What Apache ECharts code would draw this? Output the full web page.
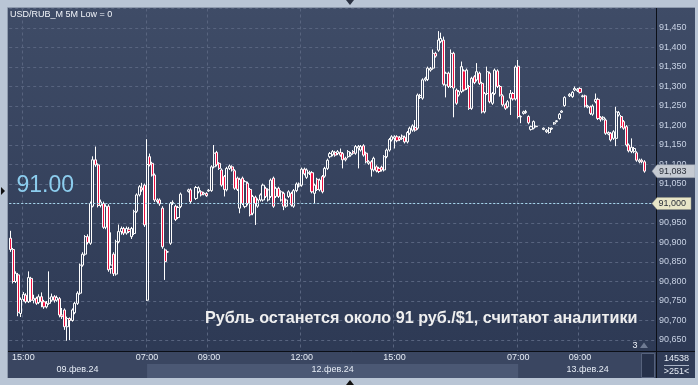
<!DOCTYPE html>
<html><head><meta charset="utf-8">
<script src="https://cdn.jsdelivr.net/npm/echarts@6/dist/echarts.min.js"></script>
<style>html,body{margin:0;padding:0;background:#b9c5d5;overflow:hidden}#c{width:698px;height:385px}</style>
</head><body><div id="c"></div>
<script>
// ---- data ----
const sessions = [
  {date: '09.фев.24', start: '14:35', bars: 53},
  {date: '12.фев.24', start: '07:00', bars: 144},
  {date: '13.фев.24', start: '07:00', bars: 54}
];
const tickTimes = ['15:00', '07:00', '09:00', '12:00'];
const yTicksStep = 50;
const lastClose = 91083;
const refLevel = 91000;

const openP = [
90911,90882,90800,90817,90718,90754,90765,90748,90808,90752,
90757,90746,90761,90748,90735,90744,90752,90761,90752,90756,
90714,90727,90684,90705,90700,90720,90744,90770,90842,90870,
90915,90898,90993,91112,91099,90995,91000,90939,90993,90833,
90870,90819,90902,90928,90936,90924,90934,90915,90923,90980,
91022,91040,91047,
90752,91120,91103,91073,91009,91009,90988,
90881,90876,90898,91000,90993,90964,90992,null,null,91031,
91035,null,91013,91030,91030,91024,91026,91032,91033,91094,
91131,91103,91086,91069,91035,91090,91094,91084,91065,90988,
91065,90992,91052,91036,90975,91016,90993,91009,91009,91039,
91009,91018,91065,91018,91039,91009,91026,90993,91018,91026,
90993,91033,91045,91047,91088,91067,91077,91079,91026,91062,
91035,91069,91070,91090,91120,91125,91131,91128,91131,91128,
91116,91120,91124,91133,91129,91142,91137,91148,91129,91103,
91107,91086,91094,91090,91093,91086,91120,91137,91163,91167,
91171,91169,91167,91170,91158,91180,91188,91195,91193,91272,
91270,91317,91318,91342,91347,91385,91393,91415,91419,91304,
91334,91300,91385,91291,91278,91287,91340,91295,91300,91244,
91325,91317,91334,91308,91235,91282,91334,91257,91282,91340,
91300,91276,91253,91248,91270,91282,91268,
91352,91222,91231,
91233,91223,91190,91193,91197,null,null,91190,91184,91182,
91191,91204,91210,91218,91234,91251,null,91276,91274,91291,
91289,91295,91274,91276,91247,91248,91229,91261,91267,91221,
91216,91214,91178,91180,91167,91167,91227,91223,91210,91197,
91150,91133,91133,91130,91107,91111,91107
];
const closeP = [
90882,90800,90821,90721,90754,90767,90748,90810,90752,90757,
90744,90761,90748,90735,90744,90757,90761,90752,90759,90714,
90710,90684,90705,90700,90727,90744,90770,90842,90870,90915,
90900,91000,91112,91099,90995,91004,90939,90993,90830,90842,
90820,90902,90928,90936,90924,90936,90928,90936,90979,91022,
91043,91035,90945,
91100,91099,91073,91009,91005,90999,90889,
90851,90876,91000,91003,90959,90990,91024,null,null,91035,
91005,null,91041,91040,91022,91027,91020,91034,91094,91129,
91099,91090,91047,91036,91090,91096,91086,91039,91036,91062,
91000,91056,91000,90971,91018,91000,91009,91022,91047,91018,
91035,91060,90993,91039,91018,91030,90993,91009,91030,90996,
91033,91050,91050,91088,91076,91086,91080,91030,91047,91036,
91060,91030,91090,91111,91128,91133,91124,91133,91124,91112,
91112,91133,91128,91129,91146,91146,91146,91124,91107,91107,
91088,91116,91084,91082,91086,91120,91137,91164,91171,91171,
91161,91164,91173,91158,91182,91193,91199,91188,91278,91277,
91317,91321,91347,91346,91385,91378,91419,91423,91306,91334,
91300,91385,91296,91257,91287,91351,91291,91342,91244,91321,
91310,91338,91308,91235,91282,91338,91261,91282,91342,91300,
91278,91253,91244,91261,91282,91268,91350,
91223,91223,91235,
91236,91207,91197,91210,91198,null,null,91193,91188,91193,
91193,91207,91212,91229,91237,91272,null,91280,91285,91295,
91293,91285,91276,91250,91250,91231,91250,91267,91218,91216,
91221,91180,91182,91163,91184,91235,91233,91197,91193,91150,
91135,91144,91141,91111,91111,91107,91083
];
const lowP = [
90876,90795,90796,90711,90709,90749,90744,90745,90747,90744,
90740,90742,90734,90730,90731,90740,90748,90746,90748,90708,
90704,90676,90648,90650,90697,90716,90740,90766,90838,90866,
90895,90894,90990,91094,90990,90990,90935,90934,90825,90820,
90814,90815,90898,90920,90919,90920,90924,90909,90919,90976,
91018,91030,90940,
90750,91095,91069,91004,91000,90994,90884,
90804,90874,90894,90996,90955,90960,90988,null,null,91028,
91001,null,91009,91026,91018,91021,91017,91030,91030,91090,
91095,91086,91043,91018,91031,91086,91082,91035,91032,90975,
90996,90988,90995,90967,90970,90945,90989,91005,91005,91014,
91005,91014,90989,91014,91014,91005,90983,90989,91014,90992,
90989,91029,91041,91043,91072,91063,91073,91026,91000,91032,
91031,91026,91066,91086,91116,91121,91120,91124,91120,91090,
91108,91116,91120,91125,91125,91090,91133,91120,91103,91099,
91069,91082,91080,91078,91082,91082,91116,91133,91159,91141,
91157,91160,91163,91154,91154,91176,91184,91184,91189,91268,
91266,91313,91314,91338,91343,91374,91389,91411,91302,91272,
91296,91296,91221,91253,91274,91283,91287,91291,91240,91240,
91306,91313,91304,91231,91231,91278,91257,91253,91278,91296,
91274,91249,91240,91244,91227,91264,91264,
91218,91206,91228,
91230,91203,91187,91190,91195,null,null,91188,91181,91179,
91189,91202,91208,91215,91232,91248,null,91273,91271,91288,
91286,91282,91272,91246,91244,91227,91225,91257,91214,91210,
91213,91176,91175,91159,91163,91147,91223,91193,91189,91146,
91131,91129,91129,91107,91103,91103,91079
];
const highP = [
90930,90886,90826,90822,90759,90773,90770,90826,90812,90766,
90761,90767,90772,90753,90750,90826,90769,90765,90764,90760,
90732,90731,90710,90708,90731,90748,90775,90846,90875,90919,
90921,91005,91121,91146,91103,91010,91005,90998,90998,90926,
90875,90907,90946,90941,90940,90941,90940,90940,90984,91026,
91047,91053,91051,
91165,91128,91107,91077,91013,91013,90993,
90885,90878,91004,91008,90997,90994,91028,null,null,91038,
91039,null,91045,91044,91034,91030,91029,91037,91098,91150,
91135,91106,91090,91073,91094,91100,91098,91088,91069,91066,
91069,91060,91056,91040,91022,91020,91013,91026,91051,91043,
91039,91064,91069,91043,91043,91034,91030,91013,91034,91030,
91037,91054,91054,91092,91092,91090,91084,91083,91051,91066,
91064,91073,91094,91115,91132,91137,91135,91137,91141,91132,
91120,91137,91132,91137,91150,91150,91150,91152,91133,91111,
91111,91120,91098,91094,91097,91124,91141,91168,91175,91175,
91175,91173,91177,91174,91186,91197,91203,91214,91282,91281,
91321,91325,91351,91350,91395,91389,91442,91438,91428,91338,
91338,91395,91389,91295,91291,91364,91344,91346,91304,91325,
91329,91360,91338,91312,91286,91351,91338,91286,91346,91344,
91304,91280,91257,91265,91291,91286,91354,
91368,91226,91238,
91240,91226,91200,91213,91200,null,null,91195,91191,91196,
91195,91209,91214,91232,91239,91275,null,91283,91288,91300,
91296,91298,91279,91279,91253,91251,91254,91282,91271,91224,
91224,91218,91185,91183,91188,91248,91237,91227,91214,91201,
91154,91167,91145,91134,91115,91115,91111
];

// ---- build categories ----
const cats = [];
const dateCenters = [];
const dayStarts = [];
sessions.forEach(s => {
  const [hh, mm] = s.start.split(':').map(Number);
  dayStarts.push(cats.length);
  dateCenters.push(cats.length + Math.floor(s.bars / 2));
  for (let k = 0; k < s.bars; k++) {
    const t = hh * 60 + mm + 5 * k;
    const ts = String(Math.floor(t / 60)).padStart(2, '0') + ':' + String(t % 60).padStart(2, '0');
    cats.push(s.date + ' ' + ts);
  }
});
const timeOf = v => v.split(' ')[1];
const dateOf = v => v.split(' ')[0];
const isTick = (i, v) => tickTimes.indexOf(timeOf(v)) >= 0;

const candles = openP.map((o, i) => o == null ? ['-', '-', '-', '-'] : [o, closeP[i], lowP[i], highP[i]]);

const FONT = 'Liberation Sans, Arial, sans-serif';
const fmtPrice = v => (v / 1000).toFixed(3).replace('.', ',');

const chart = echarts.init(document.getElementById('c'), null, {width: 698, height: 385});
const option = {
  animation: false,
  textStyle: {fontFamily: FONT},
  backgroundColor: {type: 'linear', x: 0, y: 0, x2: 0, y2: 1,
    colorStops: [{offset: 0, color: '#3f4c67'}, {offset: 1, color: '#2c3853'}]},
  grid: {left: 9.2, right: 42, top: 8.5, height: 351, outerBoundsMode: 'none', containLabel: false},
  xAxis: [
    {type: 'category', data: cats, boundaryGap: true, position: 'bottom', offset: 0,
      axisLine: {show: false}, axisTick: {show: false}, axisLabel: {show: false},
      splitLine: {show: true, interval: isTick, lineStyle: {color: '#58647f', type: [3, 3], width: 1}}},
    {type: 'category', data: cats, boundaryGap: true, z: 60, position: 'bottom', offset: 0,
      axisLine: {show: false}, axisTick: {show: false}, splitLine: {show: false},
      axisLabel: {show: true, interval: isTick, formatter: v => timeOf(v), color: '#e6ecf5',
        fontSize: 9, margin: -6, fontFamily: FONT}},
    {type: 'category', data: cats, boundaryGap: true, z: 60, position: 'bottom', offset: 0,
      axisLine: {show: false}, axisTick: {show: false}, splitLine: {show: false},
      axisLabel: {show: true, interval: (i) => dateCenters.indexOf(i) >= 0, formatter: v => dateOf(v),
        color: '#e6ecf5', fontSize: 9, margin: 5.5, fontFamily: FONT}}
  ],
  yAxis: {type: 'value', position: 'right', min: 90600, max: 91500, interval: yTicksStep, scale: false,
    axisLine: {show: false}, axisTick: {show: false},
    splitLine: {show: true, lineStyle: {color: '#58647f', type: [3, 3], width: 1}},
    axisLabel: {margin: 3, color: '#c8d2e4', fontSize: 9, fontFamily: FONT, formatter: fmtPrice,
      showMinLabel: false, showMaxLabel: false}},
  series: [{
    type: 'candlestick', data: candles, barWidth: 2.6, xAxisIndex: 0, yAxisIndex: 0,
    itemStyle: {color: 'rgba(0,0,0,0)', color0: '#ee1040', borderColor: '#ffffff',
      borderColor0: '#ffffff', borderColorDoji: '#ffffff', borderWidth: 1},
    markLine: {silent: true, symbol: ['none', 'none'], label: {show: false},
      lineStyle: {color: '#a6d8ee', type: [2, 2], width: 1},
      data: [{yAxis: refLevel}]}
  }]
};
chart.setOption(option);

const xAt = i => chart.convertToPixel({xAxisIndex: 0}, i);
const yAt = v => chart.convertToPixel({yAxisIndex: 0}, v);
const FR = '#b9c5d5';
const yL = yAt(lastClose), yR = yAt(refLevel);
const els = [
  // bottom axis band
  {type: 'rect', shape: {x: 8, y: 351, width: 687, height: 27}, style: {fill: '#3a4661'}, z: 50},
  {type: 'rect', shape: {x: xAt(dayStarts[1]), y: 364, width: xAt(dayStarts[2]) - xAt(dayStarts[1]), height: 14},
    style: {fill: '#4b5874'}, z: 51},
  {type: 'rect', shape: {x: 656, y: 351, width: 39, height: 27}, style: {fill: '#303c57'}, z: 51},
  {type: 'rect', shape: {x: 641.5, y: 353.5, width: 13, height: 24}, style: {fill: '#26314a', stroke: '#56627c', lineWidth: 1}, z: 52},
  {type: 'line', shape: {x1: 8, y1: 351.5, x2: 695, y2: 351.5}, style: {stroke: '#0b0f17', lineWidth: 1}, z: 53},
  {type: 'line', shape: {x1: 656.5, y1: 8, x2: 656.5, y2: 378}, style: {stroke: '#0b0f17', lineWidth: 1}, z: 53},
  {type: 'line', shape: {x1: 664, y1: 365.5, x2: 689, y2: 365.5}, style: {stroke: '#aab4c6', lineWidth: 1}, z: 54},
  {type: 'text', x: 676.5, y: 358.5, style: {text: '14538', fill: '#e6ecf5', font: '9px ' + FONT, align: 'center', verticalAlign: 'middle'}, z: 57},
  {type: 'text', x: 676.5, y: 372, style: {text: '>251<', fill: '#e6ecf5', font: '9px ' + FONT, align: 'center', verticalAlign: 'middle'}, z: 57},
  // offset marker
  {type: 'text', x: 635, y: 345.5, style: {text: '3', fill: '#eef2f8', font: '9px ' + FONT, align: 'center', verticalAlign: 'middle'}, z: 57},
  {type: 'polygon', shape: {points: [[640, 348], [644, 342.5], [648, 348]]}, style: {fill: '#6f7b93'}, z: 57},
  // price boxes
  {type: 'polygon', shape: {points: [[652, yL], [657, yL - 6.5], [695, yL - 6.5], [695, yL + 6.5], [657, yL + 6.5]]},
    style: {fill: '#c5cad2', stroke: '#8a93a3', lineWidth: 0.5}, z: 55},
  {type: 'text', x: 659, y: yL + 0.5, style: {text: fmtPrice(lastClose), fill: '#2a2f3a', font: '9px ' + FONT, verticalAlign: 'middle'}, z: 57},
  {type: 'polygon', shape: {points: [[652, yR], [657, yR - 6], [691, yR - 6], [691, yR + 6], [657, yR + 6]]},
    style: {fill: '#e8e6c8', stroke: '#9a9a88', lineWidth: 0.5}, z: 55},
  {type: 'text', x: 658.5, y: yR + 0.5, style: {text: fmtPrice(refLevel), fill: '#2a2f3a', font: '9px ' + FONT, verticalAlign: 'middle'}, z: 57},
  // texts
  {type: 'text', x: 10, y: 15, style: {text: 'USD/RUB_M 5M Low = 0', fill: '#f2f5fa', font: '9px ' + FONT, verticalAlign: 'middle'}, z: 57},
  {type: 'text', x: 16.5, y: 185.5, style: {text: (refLevel / 1000).toFixed(2), fill: '#8ccdee', font: '23px ' + FONT, verticalAlign: 'middle'}, z: 57},
  {type: 'text', x: 205, y: 318.5, style: {text: 'Рубль останется около 91 руб./$1, считают аналитики', fill: '#efefef', font: 'bold 16.2px ' + FONT, verticalAlign: 'middle'}, z: 57},
  // frame
  {type: 'rect', shape: {x: 0, y: 0, width: 698, height: 8}, style: {fill: FR}, z: 58},
  {type: 'rect', shape: {x: 0, y: 0, width: 8, height: 385}, style: {fill: FR}, z: 58},
  {type: 'rect', shape: {x: 695, y: 0, width: 3, height: 385}, style: {fill: FR}, z: 58},
  {type: 'rect', shape: {x: 0, y: 378, width: 698, height: 7}, style: {fill: FR}, z: 58},
  {type: 'line', shape: {x1: 7.5, y1: 7.5, x2: 695, y2: 7.5}, style: {stroke: '#8e9aad', lineWidth: 1}, z: 59},
  {type: 'line', shape: {x1: 7.5, y1: 7.5, x2: 7.5, y2: 378}, style: {stroke: '#8e9aad', lineWidth: 1}, z: 59},
  {type: 'polygon', shape: {points: [[346, 0], [354, 0], [350, 5]]}, style: {fill: '#2a3142'}, z: 59},
  {type: 'polygon', shape: {points: [[346, 385], [354, 385], [350, 380]]}, style: {fill: '#111'}, z: 59},
  {type: 'polygon', shape: {points: [[1, 187], [5, 191], [1, 195]]}, style: {fill: '#111'}, z: 59}
];
chart.setOption({graphic: {elements: els}});
</script>
</body></html>
